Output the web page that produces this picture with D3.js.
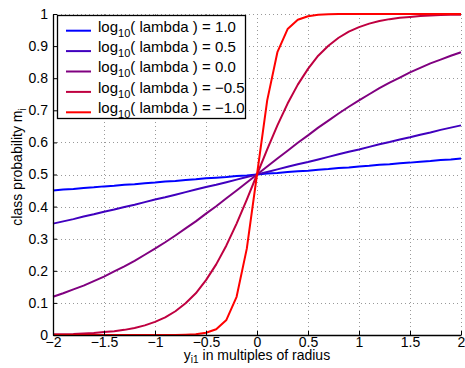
<!DOCTYPE html>
<html><head><meta charset="utf-8">
<script src="https://cdn.jsdelivr.net/npm/d3@7"></script>
<style>
body{margin:0;background:#fff;}
svg{display:block;font-family:"Liberation Sans",Arial,sans-serif;}
</style></head>
<body><svg id="c" width="465" height="368"></svg>
<script>
const xValues = [-2,-1.9,-1.8,-1.7,-1.6,-1.5,-1.4,-1.3,-1.2,-1.1,-1,-0.9,-0.8,-0.7,-0.6,-0.5,-0.4,-0.3,-0.2,-0.1,0,0.1,0.2,0.3,0.4,0.5,0.6,0.7,0.8,0.9,1,1.1,1.2,1.3,1.4,1.5,1.6,1.7,1.8,1.9,2];
const seriesNames = ["1.0","0.5","0.0","\u22120.5","\u22121.0"];
const seriesColors = ["#0000ff","#4000bf","#800080","#bf0040","#ff0000"];
const logLambda10 = [0.450,0.453,0.455,0.458,0.460,0.463,0.465,0.468,0.470,0.473,0.475,0.478,0.480,0.483,0.485,0.488,0.490,0.492,0.495,0.497,0.500,0.503,0.505,0.508,0.510,0.512,0.515,0.517,0.520,0.522,0.525,0.527,0.530,0.532,0.535,0.537,0.540,0.542,0.545,0.547,0.550];
const logLambda05 = [0.347,0.354,0.361,0.369,0.376,0.384,0.391,0.399,0.406,0.414,0.422,0.429,0.437,0.445,0.453,0.461,0.468,0.476,0.484,0.492,0.500,0.508,0.516,0.524,0.532,0.539,0.547,0.555,0.563,0.571,0.578,0.586,0.594,0.601,0.609,0.616,0.624,0.631,0.639,0.646,0.653];
const logLambda00 = [0.119,0.130,0.142,0.154,0.168,0.182,0.198,0.214,0.231,0.250,0.269,0.289,0.310,0.332,0.354,0.378,0.401,0.426,0.450,0.475,0.500,0.525,0.550,0.574,0.599,0.622,0.646,0.668,0.690,0.711,0.731,0.750,0.769,0.786,0.802,0.818,0.832,0.846,0.858,0.870,0.881];
const logLambdaM05 = [0.002,0.002,0.003,0.005,0.006,0.009,0.012,0.016,0.022,0.030,0.041,0.055,0.074,0.099,0.130,0.171,0.220,0.279,0.347,0.422,0.500,0.578,0.653,0.721,0.780,0.829,0.870,0.901,0.926,0.945,0.959,0.970,0.978,0.984,0.988,0.991,0.994,0.995,0.997,0.998,0.998];
const logLambdaM10 = [0.000,0.000,0.000,0.000,0.000,0.000,0.000,0.000,0.000,0.000,0.000,0.000,0.000,0.001,0.002,0.007,0.018,0.047,0.119,0.269,0.500,0.731,0.881,0.953,0.982,0.993,0.998,0.999,1.000,1.000,1.000,1.000,1.000,1.000,1.000,1.000,1.000,1.000,1.000,1.000,1.000];
const xTicks = [-2,-1.5,-1,-0.5,0,0.5,1,1.5,2];
const xTickLabels = ["\u22122","\u22121.5","\u22121","\u22120.5","0","0.5","1","1.5","2"];
const yTicks = [0,0.1,0.2,0.3,0.4,0.5,0.6,0.7,0.8,0.9,1];
const yTickLabels = ["0","0.1","0.2","0.3","0.4","0.5","0.6","0.7","0.8","0.9","1"];

const allSeries = [logLambda10, logLambda05, logLambda00, logLambdaM05, logLambdaM10];

const svg = d3.select("#c");
const L = 53, R = 461, T = 14, B = 335;
const x = d3.scaleLinear().domain([-2,2]).range([L,R]);
const y = d3.scaleLinear().domain([0,1]).range([B,T]);

// grid
const grid = svg.append("g").attr("stroke","#999").attr("stroke-width",1).attr("stroke-dasharray","1,3");
xTicks.slice(1).forEach(v=>grid.append("line").attr("x1",Math.round(x(v))+0.5).attr("x2",Math.round(x(v))+0.5).attr("y1",T).attr("y2",B));
yTicks.slice(1).forEach(v=>grid.append("line").attr("y1",Math.round(y(v))+0.5).attr("y2",Math.round(y(v))+0.5).attr("x1",L).attr("x2",R));

// curves
const line = d3.line().x((d,i)=>x(xValues[i])).y(d=>y(d));
allSeries.forEach((s,i)=>{
  svg.append("path").datum(s).attr("d",line).attr("fill","none")
    .attr("stroke",seriesColors[i]).attr("stroke-width",2).attr("stroke-linejoin","round");
});

// axes
const fs = 14;
const ax = svg.append("g").attr("transform",`translate(0,${B})`)
  .call(d3.axisBottom(x).tickValues(xTicks).tickFormat((d,i)=>xTickLabels[i]).tickSizeInner(-4).tickSizeOuter(0).tickPadding(2));
const ay = svg.append("g").attr("transform",`translate(${L},0)`)
  .call(d3.axisLeft(y).tickValues(yTicks).tickFormat((d,i)=>yTickLabels[i]).tickSizeInner(-4).tickSizeOuter(0).tickPadding(5));
[ax,ay].forEach(a=>{
  a.selectAll("path").attr("stroke","#000").attr("stroke-width",1.3);
  a.selectAll("line").attr("stroke","#000");
  a.selectAll("text").attr("font-size",fs).attr("font-family","Liberation Sans, Arial, sans-serif").attr("fill","#000");
});
ax.selectAll("text").attr("dy","0.71em");

// axis labels
const xl = svg.append("text").attr("x",257).attr("y",360).attr("text-anchor","middle").attr("font-size",fs);
xl.append("tspan").text("y");
xl.append("tspan").text("i1").attr("font-size",10).attr("dy",3);
xl.append("tspan").text(" in multiples of radius").attr("dy",-3);

const yl = svg.append("text").attr("transform","translate(22,167) rotate(-90)").attr("text-anchor","middle").attr("font-size",fs);
yl.append("tspan").text("class probability m");
yl.append("tspan").text("i").attr("font-size",10).attr("dy",4);

// legend
const lg = svg.append("g");
lg.append("rect").attr("x",57.5).attr("y",15.5).attr("width",188).attr("height",103).attr("fill","#fff").attr("stroke","#000").attr("stroke-width",1.3);
seriesNames.forEach((n,i)=>{
  const yy = 30.7 + i*20.4;
  lg.append("line").attr("x1",66).attr("x2",91).attr("y1",yy).attr("y2",yy).attr("stroke",seriesColors[i]).attr("stroke-width",2);
  const t = lg.append("text").attr("x",98).attr("y",yy+0.8).attr("font-size",15);
  t.append("tspan").text("log");
  t.append("tspan").text("10").attr("font-size",11).attr("dy",5);
  t.append("tspan").text("( lambda ) = " + n).attr("dy",-5);
});
</script></body></html>
